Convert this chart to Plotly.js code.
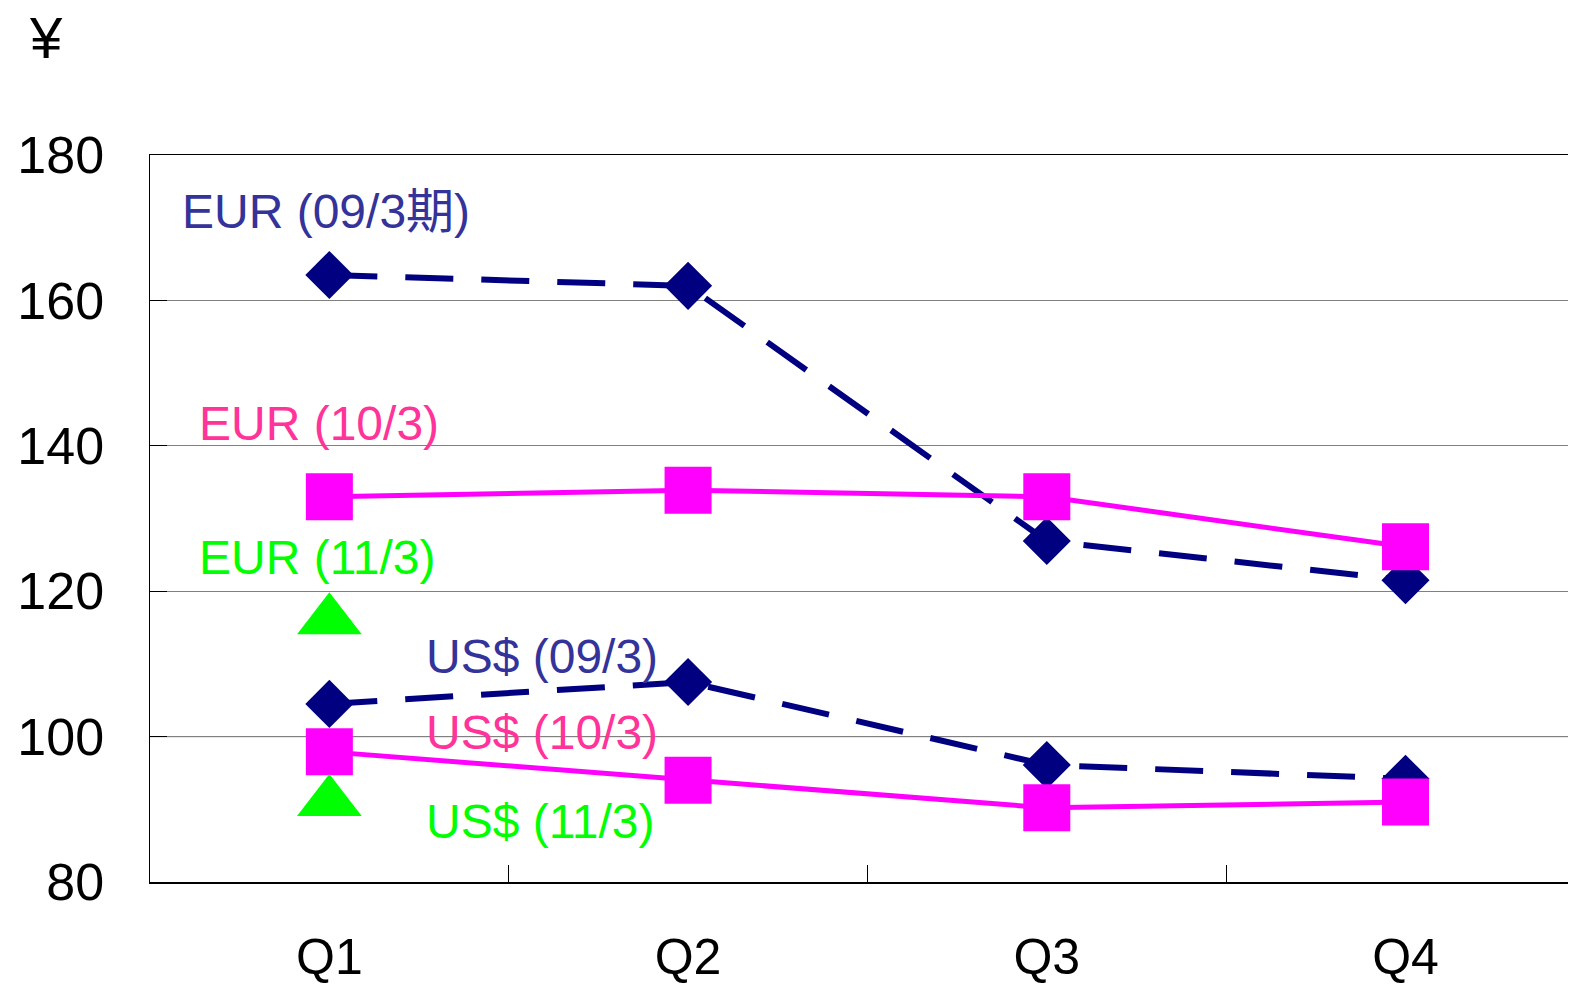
<!DOCTYPE html>
<html>
<head>
<meta charset="utf-8">
<script src="https://cdn.plot.ly/plotly-3.0.1.min.js"></script>
<style>html,body{margin:0;padding:0;background:#fff;}#chart{width:1574px;height:987px;}</style>
</head>
<body>
<div id="chart"></div>
<script>
const quarters = ['Q1', 'Q2', 'Q3', 'Q4'];
const eur09 = [163.5, 162.0, 126.9, 121.5];
const eur10 = [133.0, 133.9, 133.0, 126.1];
const eur11 = [116.0];
const usd09 = [104.5, 107.5, 96.1, 94.2];
const usd10 = [97.9, 94.0, 90.2, 91.0];
const usd11 = [91.0];
const seriesLabels = ['EUR (09/3期)', 'EUR (10/3)', 'EUR (11/3)', 'US$ (09/3)', 'US$ (10/3)', 'US$ (11/3)'];
const yTicks = [80, 100, 120, 140, 160, 180];

const NAVY = '#000080', MAG = '#FF00FF', GRN = '#00FF00';
const dashed = {color: NAVY, width: 6, dash: '48px,28px'};
const solid = {color: MAG, width: 5};

const traces = [
  {x: quarters, y: eur09, mode: 'lines+markers', line: dashed, marker: {symbol: 'diamond', size: 37, color: NAVY}},
  {x: quarters, y: eur10, mode: 'lines+markers', line: solid, marker: {symbol: 'square', size: 47, color: MAG}},
  {x: quarters.slice(0, 1), y: eur11, mode: 'markers', marker: {symbol: 'triangle-up', size: 56, color: GRN}},
  {x: quarters, y: usd09, mode: 'lines+markers', line: dashed, marker: {symbol: 'diamond', size: 37, color: NAVY}},
  {x: quarters, y: usd10, mode: 'lines+markers', line: solid, marker: {symbol: 'square', size: 47, color: MAG}},
  {x: quarters.slice(0, 1), y: usd11, mode: 'markers', marker: {symbol: 'triangle-up', size: 56, color: GRN}}
];

const labelFont = 'Liberation Sans, Noto Sans CJK JP, sans-serif';
const labelPos = [
  {x: -0.416, y: 172.2, c: '#333399'},
  {x: -0.368, y: 143.0, c: '#FF3399'},
  {x: -0.368, y: 124.6, c: '#00FF00'},
  {x: 0.265, y: 111.0, c: '#333399'},
  {x: 0.265, y: 100.5, c: '#FF3399'},
  {x: 0.265, y: 88.3, c: '#00FF00'}
];
const annotations = seriesLabels.map((t, i) => ({
  text: t, x: labelPos[i].x, y: labelPos[i].y, xref: 'x', yref: 'y',
  xanchor: 'left', yanchor: 'middle', showarrow: false,
  font: {family: labelFont, size: 48, color: labelPos[i].c}
}));
annotations.push({
  text: '¥', xref: 'paper', yref: 'paper', x: -0.073, y: 1.162, xanchor: 'center', yanchor: 'middle',
  showarrow: false, font: {family: 'Liberation Sans, Arial, sans-serif', size: 58, color: '#000'}
});

const layout = {
  width: 1574, height: 987,
  margin: {l: 150, r: 6, t: 155, b: 105},
  paper_bgcolor: '#fff', plot_bgcolor: '#fff',
  showlegend: false,
  xaxis: {
    type: 'category', range: [-0.5, 3.453], fixedrange: true,
    showline: true, linecolor: '#000', linewidth: 1.5, mirror: true,
    showgrid: false, zeroline: false,
    ticks: 'inside', tickson: 'boundaries', ticklen: 17, tickcolor: '#000', tickwidth: 1,
    ticklabelstandoff: 30,
    tickfont: {family: 'Liberation Sans Narrow, Liberation Sans, Arial, sans-serif', size: 50, color: '#000'}
  },
  yaxis: {
    range: [80, 180], tickvals: yTicks, fixedrange: true,
    showline: true, linecolor: '#000', linewidth: 1.5,
    showgrid: true, gridcolor: '#808080', gridwidth: 1.3, zeroline: false,
    ticks: 'inside', ticklen: 17, tickcolor: '#000',
    ticklabelstandoff: 34,
    tickfont: {family: 'Liberation Sans, Arial, sans-serif', size: 52, color: '#000'}
  },
  shapes: [{type: 'line', xref: 'paper', yref: 'y', x0: 0, x1: 1, y0: 100, y1: 100, line: {color: '#000', width: 1}, layer: 'below'}],
  annotations: annotations
};

Plotly.newPlot('chart', traces, layout, {displayModeBar: false, staticPlot: true});
</script>
</body>
</html>
